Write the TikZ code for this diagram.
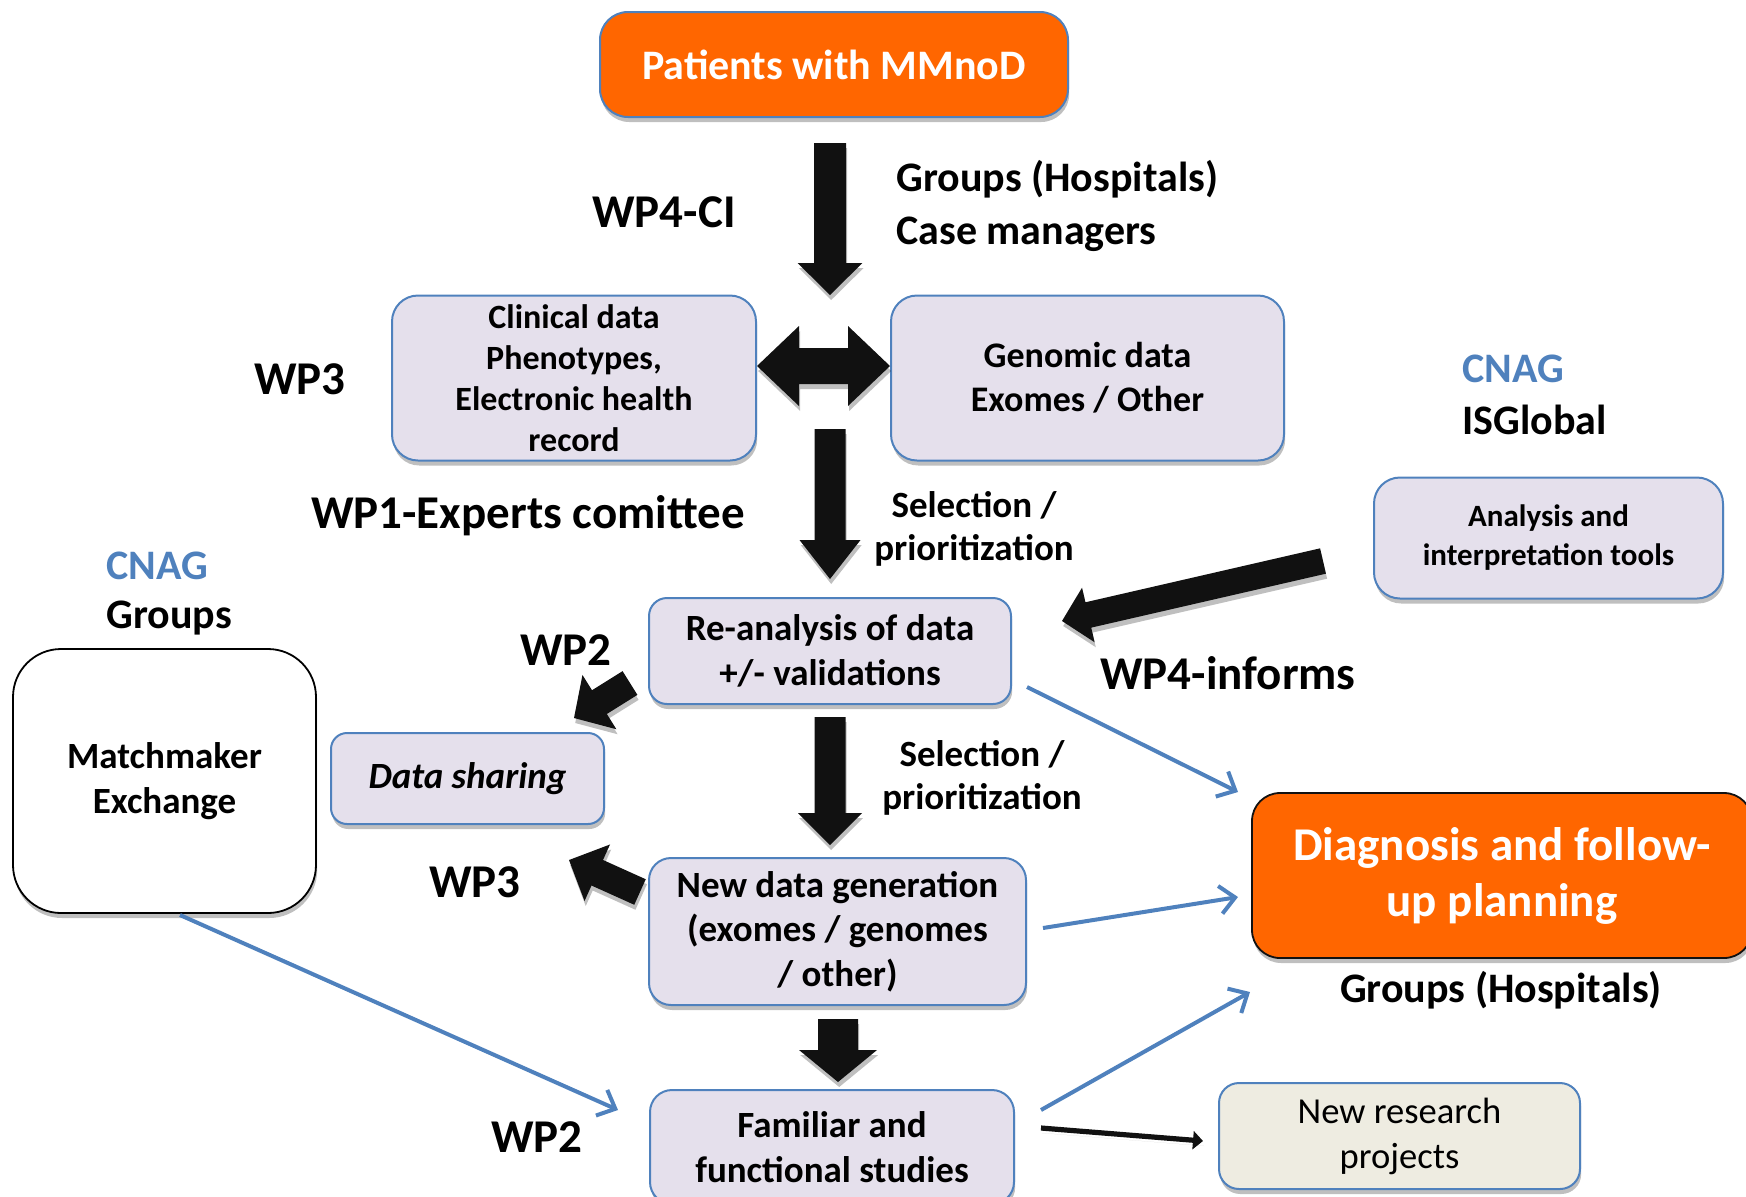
\documentclass[tikz,border=0pt]{standalone}
\usepackage{fontspec}
\setmainfont{Carlito}
\usetikzlibrary{calc,shadows,arrows.meta}

\definecolor{orng}{HTML}{FF6600}
\definecolor{lav}{HTML}{E5E0EC}
\definecolor{bord}{HTML}{4F81BD}
\definecolor{beige}{HTML}{EEECE1}
\definecolor{ink}{HTML}{111111}

\newcommand\fsz[2]{\fontsize{#1}{#2}\selectfont}

% fat filled arrow: tail, tip, half shaft width, half head width, head length
\newcommand\blockarrow[5]{%
  \coordinate (ba-h) at ($(#2)!#5!(#1)$);
  \fill[blockfill] ($(#1)!#3!90:(#2)$) -- ($(ba-h)!#3!90:(#2)$) -- ($(ba-h)!#4!90:(#2)$)
    -- (#2) -- ($(ba-h)!#4!-90:(#2)$) -- ($(ba-h)!#3!-90:(#2)$) -- ($(#1)!#3!-90:(#2)$) -- cycle;
}

\tikzset{
  softshadow/.style={drop shadow={shadow xshift=0.6pt, shadow yshift=-2.5pt, opacity=0.25, fill=black}},
  lavbox/.style={draw=bord, line width=1pt, fill=lav, rounded corners=13pt, inner sep=0pt,
    align=center, softshadow, font=\bfseries\fsz{18.5}{22.5}},
  orbox/.style={fill=orng, text=white, rounded corners=14pt, inner sep=0pt, align=center, softshadow},
  biglbl/.style={font=\bfseries\fsz{23.5}{28}, inner sep=0pt},
  midlbl/.style={font=\bfseries\fsz{21}{26.5}, inner sep=0pt, align=left},
  seltext/.style={font=\bfseries\fsz{18.5}{21.5}, align=center, inner sep=0pt},
  blueline/.style={draw=bord, line width=2pt, -{Straight Barb[length=7.5pt,width=14pt,line width=2pt]}},
  blockfill/.style={fill=ink, softshadow},
}

\begin{document}
\begin{tikzpicture}[x=0.5pt, y=-0.5pt]
\useasboundingbox (0,0) rectangle (1746,1196);
\clip (0,0) rectangle (1746,1196);

% ---------- boxes ----------
\node[orbox, draw=bord, line width=1pt, minimum width=234pt, minimum height=52.5pt,
  font=\bfseries\fsz{21}{25}] (pat) at (834,64.5) {Patients with MMnoD};

\node[lavbox, minimum width=182pt, minimum height=82.5pt, font=\bfseries\fsz{17}{20.6}]
  (clin) at (574,378) {Clinical data\\Phenotypes,\\Electronic health\\record};
\node[lavbox, minimum width=196.5pt, minimum height=82.5pt, font=\bfseries\fsz{18}{22}]
  (gen) at (1087.5,378) {Genomic data\\Exomes / Other};

\node[lavbox, minimum width=174.5pt, minimum height=60.5pt, font=\bfseries\fsz{15.5}{19.5}]
  (ana) at (1548.5,538) {Analysis and\\interpretation tools};

\node[lavbox, minimum width=181pt, minimum height=53pt, rounded corners=9pt]
  (rea) at (830,651) {Re-analysis of data\\+/- validations};

\node[draw=black, line width=0.9pt, fill=white, rounded corners=24pt, minimum width=151.5pt,
  minimum height=132pt, inner sep=0pt, align=center, softshadow, font=\bfseries\fsz{18.5}{22.5}]
  (mm) at (164.5,781) {Matchmaker\\Exchange};

\node[lavbox, minimum width=136.5pt, minimum height=45.5pt, rounded corners=8pt,
  font=\bfseries\itshape\fsz{18.5}{22.5}] (ds) at (467.5,778.5) {Data sharing};

\node[lavbox, minimum width=188.5pt, minimum height=73.5pt, rounded corners=11pt, font=\bfseries\fsz{18.5}{22.2}]
  (nd) at (837.5,931.5) {New data generation\\(exomes / genomes\\/ other)};

\node[orbox, draw=ink, line width=0.9pt, minimum width=250pt, minimum height=82.5pt,
  font=\bfseries\fsz{23.5}{28}] (dia) at (1502,875.5) {Diagnosis and follow-\\up planning};

\node[lavbox, minimum width=182pt, minimum height=57pt, rounded corners=11pt]
  (fam) at (832,1147) {Familiar and\\functional studies};

\node[draw=bord, line width=1pt, fill=beige, rounded corners=10pt, minimum width=180.5pt,
  minimum height=53pt, inner sep=0pt, align=center, softshadow, font=\fsz{18.3}{22.5}]
  (nrp) at (1399.5,1136) {New research\\projects};

% ---------- labels ----------
\node[biglbl] (lwp4ci) at (664,212) {WP4-CI};
\node[midlbl, anchor=west] (lgrp) at (896,206) {Groups (Hospitals)\\Case managers};
\node[biglbl] (lwp3a) at (300,379) {WP3};
\node[biglbl] (lwp1) at (528,516) {WP1-Experts comittee};
\node[seltext] (lsel1) at (974,529) {Selection /\\prioritization};
\node[midlbl, anchor=west, text=bord] (lcnag1) at (1462,369) {CNAG};
\node[midlbl, anchor=west] (lisg) at (1462,420) {ISGlobal};
\node[midlbl, anchor=west, text=bord] (lcnag2) at (106,566) {CNAG};
\node[midlbl, anchor=west] (lgrp2) at (106,618) {Groups};
\node[biglbl] (lwp2a) at (566,650) {WP2};
\node[biglbl] (lwp4i) at (1228,673) {WP4-informs};
\node[seltext] (lsel2) at (982,778) {Selection /\\prioritization};
\node[biglbl] (lwp3b) at (475,882) {WP3};
\node[midlbl] (lgrp3) at (1501,990) {Groups (Hospitals)};
\node[biglbl] (lwp2b) at (537,1137) {WP2};

% ---------- fat black arrows ----------
\coordinate (a1t) at (830,143);  \coordinate (a1h) at (830,295);
\blockarrow{a1t}{a1h}{8pt}{16.2pt}{16pt}
\coordinate (a2t) at (830,429);  \coordinate (a2h) at (830,579);
\blockarrow{a2t}{a2h}{7.75pt}{15.25pt}{19.5pt}
\coordinate (a3t) at (830,717);  \coordinate (a3h) at (830,845);
\blockarrow{a3t}{a3h}{7.75pt}{16pt}{16pt}
\coordinate (a4t) at (838,1019); \coordinate (a4h) at (838,1082);
\blockarrow{a4t}{a4h}{10pt}{19.5pt}{16pt}
\coordinate (a5t) at (1323,561); \coordinate (a5h) at (1062,621);
\blockarrow{a5t}{a5h}{6.5pt}{14pt}{13.5pt}
\coordinate (a6t) at (630,683);  \coordinate (a6h) at (574,718);
\blockarrow{a6t}{a6h}{7pt}{16pt}{15pt}
\coordinate (a7t) at (640,892);  \coordinate (a7h) at (569,860);
\blockarrow{a7t}{a7h}{7pt}{15.5pt}{15.5pt}

% double-headed arrow between the two data boxes
\coordinate (dl) at (clin.east |- 0,366);
\coordinate (dr) at (gen.west |- 0,366);
\fill[blockfill] (dl) -- ($(dl)+(42,-40)$) -- ($(dl)+(42,-18)$) -- ($(dr)+(-42,-18)$)
  -- ($(dr)+(-42,-40)$) -- (dr) -- ($(dr)+(-42,40)$) -- ($(dr)+(-42,18)$)
  -- ($(dl)+(42,18)$) -- ($(dl)+(42,40)$) -- cycle;

% ---------- blue connectors ----------
\coordinate (b1s) at (1027,687);  \coordinate (b1e) at (1238,792);
\draw[blueline] (b1s) -- (b1e);
\coordinate (b2s) at (1043,928);  \coordinate (b2e) at (1238,897);
\draw[blueline] (b2s) -- (b2e);
\coordinate (b3s) at (1041,1110); \coordinate (b3e) at (1250,992);
\draw[blueline] (b3s) -- (b3e);
\coordinate (b4s) at (180,915);   \coordinate (b4e) at (618,1110);
\draw[blueline] (b4s) -- (b4e);

% thin black arrow to the research box
\coordinate (k1s) at (1041,1128); \coordinate (k1e) at (1203,1141);
\draw[ink, line width=2.6pt, softshadow, -{Triangle[length=5pt,width=9pt]}] (k1s) -- (k1e);

\end{tikzpicture}
\end{document}
